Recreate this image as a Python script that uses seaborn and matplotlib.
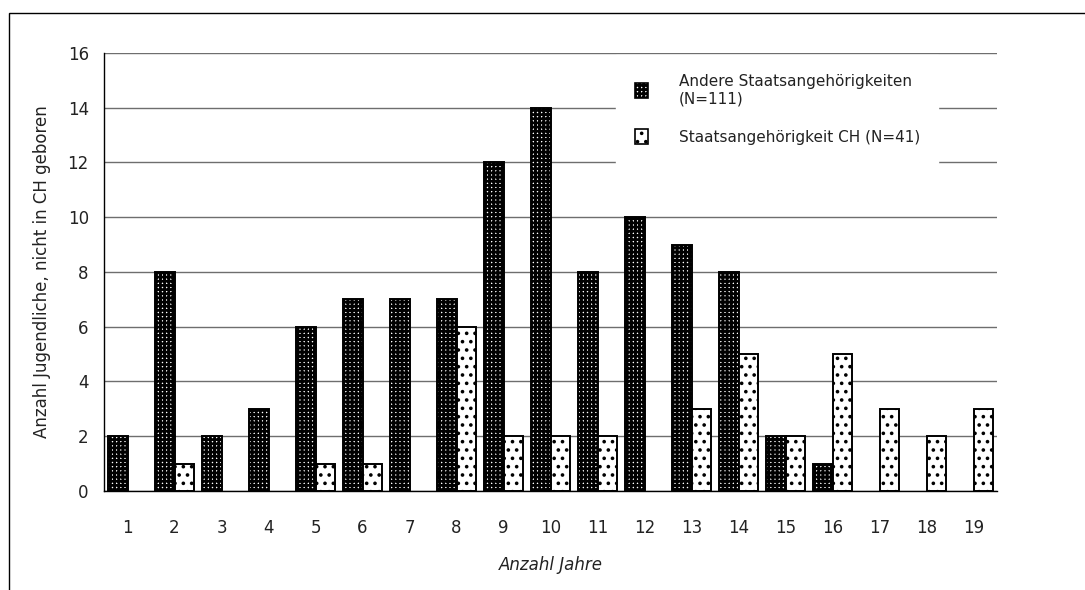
import numpy as np
import pandas as pd
import matplotlib
matplotlib.use("Agg")
import matplotlib.pyplot as plt
import seaborn as sns
from matplotlib.patches import Patch, Rectangle

# Data
jahre = [str(i) for i in range(1, 20)]
andere = [2, 8, 2, 3, 6, 7, 7, 7, 12, 14, 8, 10, 9, 8, 2, 1, 0, 0, 0]
schweiz = [0, 1, 0, 0, 1, 1, 0, 6, 2, 2, 2, 0, 3, 5, 2, 5, 3, 2, 3]
label_andere = "Andere Staatsangehörigkeiten\n(N=111)"
label_ch = "Staatsangehörigkeit CH (N=41)"

df = pd.DataFrame({
    "Jahre": jahre * 2,
    "Anzahl": andere + schweiz,
    "Gruppe": [label_andere] * len(jahre) + [label_ch] * len(jahre),
})

sns.set_style("white")
plt.rcParams["font.family"] = ["DejaVu Sans"]
plt.rcParams["hatch.linewidth"] = 1.4

GRID_LW = 2.0


def set_hatch_lw(p, lw):
    # per-artist hatch width if this matplotlib has it
    if hasattr(p, "set_hatch_linewidth"):
        p.set_hatch_linewidth(lw)


fig = plt.figure(figsize=(10.85, 5.90), dpi=100)
ax = fig.add_axes([0.0959, 0.1678, 0.8230, 0.7424])

sns.barplot(
    data=df, x="Jahre", y="Anzahl", hue="Gruppe",
    order=jahre, hue_order=[label_andere, label_ch],
    palette=["white", "white"], width=0.82, gap=0,
    edgecolor="black", linewidth=1.4, legend=False, ax=ax,
)

# Patterns: dark grid for "Andere", sparse dots for CH
for bar in ax.containers[0]:
    bar.set_hatch("++++")
    set_hatch_lw(bar, GRID_LW)
    if bar.get_height() == 0:
        bar.set_visible(False)
for bar in ax.containers[1]:
    bar.set_hatch("..")
    set_hatch_lw(bar, 1.4)
    if bar.get_height() == 0:
        bar.set_visible(False)

ax.set_ylim(0, 16)
ax.set_yticks(range(0, 17, 2))
ax.set_xlim(-0.5, len(jahre) - 0.5)
ax.yaxis.grid(True, color="#6e6e6e", linewidth=1.0)
ax.set_axisbelow(True)

for s in ["top", "right"]:
    ax.spines[s].set_visible(False)
ax.spines["left"].set_color("black")
ax.spines["bottom"].set_color("black")
ax.spines["left"].set_linewidth(1.0)
ax.spines["bottom"].set_linewidth(1.0)

# x ticks at category borders, labels at centres
ax.set_xticks(np.arange(len(jahre) + 1) - 0.5, minor=True)
ax.tick_params(axis="x", which="minor", length=5, width=1, color="black", direction="out")
ax.tick_params(axis="x", which="major", length=0, pad=20, labelsize=12, labelcolor="#222222")
ax.tick_params(axis="y", length=5, width=1, color="black", direction="out", pad=6,
               labelsize=12, labelcolor="#222222")

ax.set_xlabel("Anzahl Jahre", fontsize=12, fontstyle="italic", labelpad=14, color="#222222")
ax.set_ylabel("Anzahl Jugendliche, nicht in CH geboren", fontsize=12, labelpad=12, color="#222222")

h1 = Patch(facecolor="white", edgecolor="black", hatch="++++", linewidth=1.2, label=label_andere)
h2 = Patch(facecolor="white", edgecolor="black", hatch="..", linewidth=1.2, label=label_ch)
leg = ax.legend(handles=[h1, h2], loc="upper left", bbox_to_anchor=(0.565, 1.012),
                frameon=True, fontsize=11, handlelength=0.9, handleheight=1.1,
                handletextpad=2.0, labelspacing=1.5, borderpad=1.2, fancybox=False)
leg.get_frame().set_edgecolor("white")
leg.get_frame().set_facecolor("white")
leg.get_frame().set_alpha(1)
for t in leg.get_texts():
    t.set_color("#222222")
for hp in leg.get_patches():
    if hp.get_hatch() == "++++":
        set_hatch_lw(hp, GRID_LW)

# outer frame of the original chart area
fig.patches.append(Rectangle((9 / 1085, -0.1), 1.2, 1.1 - 13 / 590, transform=fig.transFigure,
                             fill=False, edgecolor="black", linewidth=1.0, clip_on=False))

fig.savefig("out.png", dpi=100)
